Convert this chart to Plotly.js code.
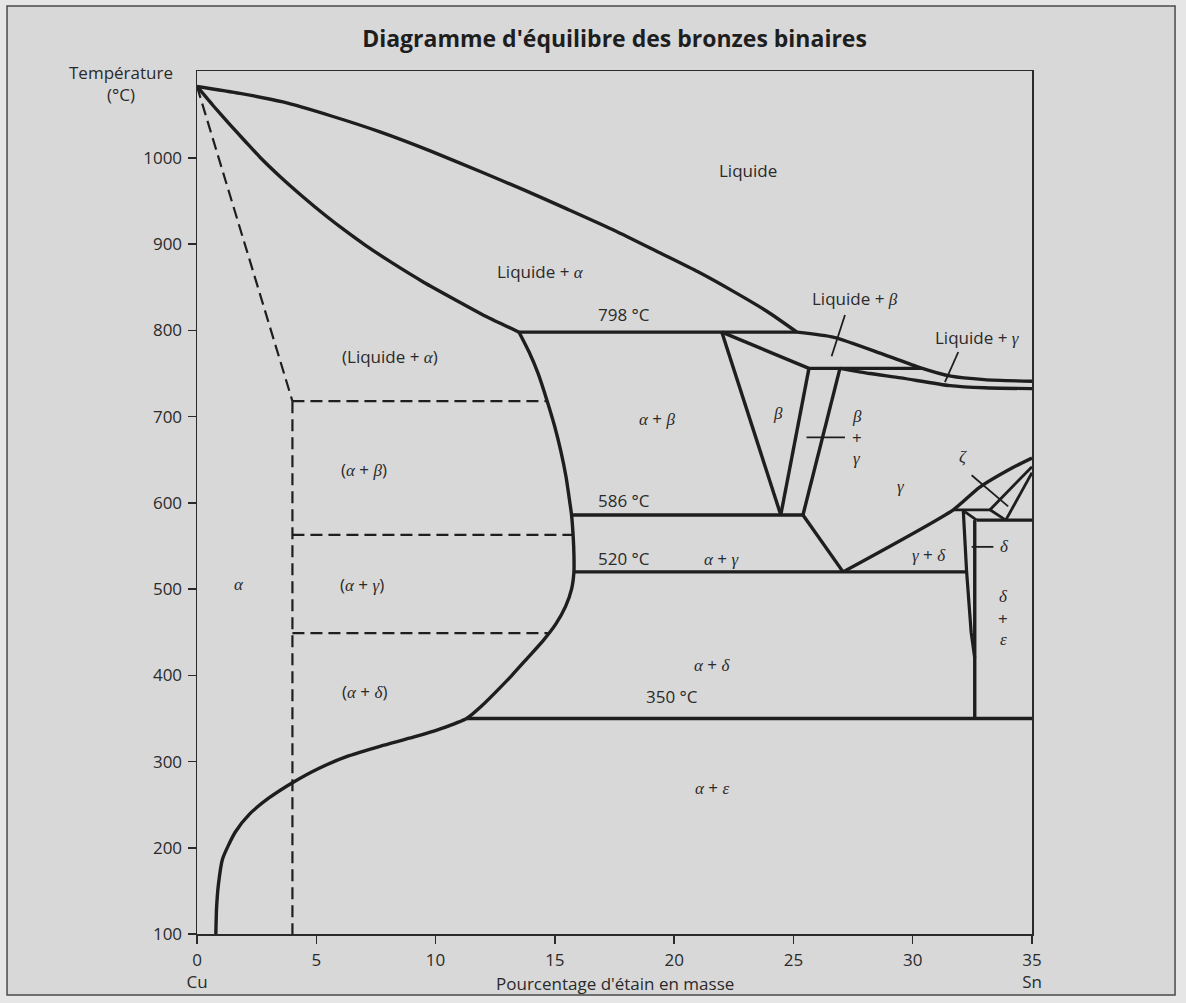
<!DOCTYPE html>
<html>
<head>
<meta charset="utf-8">
<script src="https://cdn.plot.ly/plotly-3.0.1.min.js"></script>
<style>
  html, body { margin: 0; padding: 0; background: #e6e6e6; }
  #chart { width: 1186px; height: 1003px; }
</style>
</head>
<body>
<div id="chart"></div>
<script>
// ---- Axis ticks ----
const xTickVals = [0, 5, 10, 15, 20, 25, 30, 35];
const xTickText = ['0<br>Cu', '5', '10', '15', '20', '25', '30', '35<br>Sn'];
const yTickVals = [100, 200, 300, 400, 500, 600, 700, 800, 900, 1000];

// ---- Phase boundaries (x = % Sn en masse, T = °C) ----
const liquidusUpX = [0, 1.8, 3.6, 5.6, 7.7, 9.8, 11.9, 13.7, 15.5, 17.5, 19.4, 21.0, 22.5, 23.9, 25.15];
const liquidusUpT = [1083, 1075, 1065, 1049, 1030, 1008, 984, 963, 941, 916, 890, 868, 845, 822, 798];
const liquidusLowX = [25.15, 26.7, 28.8, 30.3, 31.6, 33.0, 35];
const liquidusLowT = [798, 792, 772, 757, 747, 743, 741];
const solidusX = [0, 0.7, 1.4, 2.0, 2.67, 3.5, 4.4, 5.4, 6.2, 7.05, 8.2, 9.5, 10.8, 12.1, 13.5];
const solidusT = [1083, 1060, 1038, 1020, 1000, 978, 956, 933, 916, 899, 878, 856, 836, 816.5, 798];
const solvusX = [13.5, 13.92, 14.3, 14.68, 14.98, 15.25, 15.47, 15.63, 15.7, 15.77, 15.8, 15.8,
  15.7, 15.45, 15.05, 14.5, 13.85, 13.2, 12.5, 11.95, 11.3,
  10.2, 9.1, 7.7, 6.35, 5.1, 4.0, 3.0, 2.2, 1.6, 1.07, 0.9, 0.82, 0.79];
const solvusT = [798, 775, 750, 718, 690, 660, 630, 600, 586, 560, 540, 520,
  500, 480, 460, 440, 420, 400, 380, 365, 350,
  338, 328.5, 318, 306.5, 292, 275.5, 257.5, 239, 218, 187, 158, 130, 100];

const iso798X = [13.5, 25.15];  const iso798T = [798, 798];
const iso586X = [15.7, 25.4];   const iso586T = [586, 586];
const iso520X = [15.8, 32.26];  const iso520T = [520, 520];
const iso350X = [11.3, 35];     const iso350T = [350, 350];
const iso756X = [25.65, 30.35]; const iso756T = [756, 756];

const betaTopX = [22.0, 25.65];   const betaTopT = [798, 756];
const betaLeftX = [22.0, 24.47];  const betaLeftT = [798, 586];
const betaRightX = [25.65, 24.47]; const betaRightT = [756, 586];
const betaGamX = [26.95, 25.4];   const betaGamT = [756, 586];
const eutectoidX = [25.4, 27.08]; const eutectoidT = [586, 520];
const gammaLiqX = [26.95, 28.2, 29.5, 31.56, 33.0, 35];
const gammaLiqT = [756, 750, 745, 736, 733.5, 732.5];
const gammaDeltaX = [27.08, 31.7, 32.8, 34.2, 35];
const gammaDeltaT = [520, 592, 618, 641, 652];
const zetaIsoX = [31.7, 33.24];   const zetaIsoT = [592, 592];
const zetaLeftX = [33.24, 35];    const zetaLeftT = [592, 642];
const zetaKinkX = [33.24, 33.9];  const zetaKinkT = [592, 580];
const zetaRightX = [33.9, 35];    const zetaRightT = [580, 635];
const iso580X = [32.68, 35];      const iso580T = [580, 580];
const deltaKinkX = [32.12, 32.68]; const deltaKinkT = [591, 580];
const deltaLeftX = [32.12, 32.26, 32.45, 32.6];
const deltaLeftT = [591, 520, 450, 420];
const deltaRightX = [32.6, 32.6]; const deltaRightT = [580, 350];

// ---- Dashed (4 % Sn alloy, out of equilibrium) ----
const dashDiagX = [0, 4.0];      const dashDiagT = [1083, 718];
const dashVertX = [4.0, 4.0];    const dashVertT = [718, 100];
const dashH1X = [4.0, 14.68];    const dashH1T = [718, 718];
const dashH2X = [4.0, 15.76];    const dashH2T = [563, 563];
const dashH3X = [4.0, 14.75];    const dashH3T = [449, 449];

// ---- Leader lines ----
const ptrLbX = [27.16, 26.6];   const ptrLbT = [818, 770];
const ptrLgX = [31.91, 31.35];  const ptrLgT = [775, 740];
const ptrBgX = [25.55, 27.16];  const ptrBgT = [676, 676];
const ptrDX = [32.47, 33.38];   const ptrDT = [549, 549];
const ptrZX = [32.47, 34.0];    const ptrZT = [632, 596];

// ---- Labels ----
const g = s => "<span style=\"font-family:'Liberation Serif'\"><i>" + s + "</i></span>";
const labelText = ['Liquide', 'Liquide + ' + g('α'), '798 °C', '(Liquide + ' + g('α') + ')',
  g('α') + ' + ' + g('β'), g('β'), '586 °C', '520 °C', g('α') + ' + ' + g('γ'),
  g('γ'), g('ζ'), g('γ') + ' + ' + g('δ'), g('δ'), g('δ'), '+', g('ε'),
  g('α') + ' + ' + g('δ'), '350 °C', g('α') + ' + ' + g('ε'),
  '(' + g('α') + ' + ' + g('β') + ')', g('α'), '(' + g('α') + ' + ' + g('γ') + ')', '(' + g('α') + ' + ' + g('δ') + ')',
  'Liquide + ' + g('β'), 'Liquide + ' + g('γ'), g('β'), '+', g('γ')];
const labelX = [23.1, 14.4, 17.9, 8.1, 19.3, 24.37, 17.9, 17.9, 22.0,
  29.5, 32.1, 30.7, 33.85, 33.8, 33.8, 33.8,
  21.6, 19.9, 21.6,
  7.0, 1.77, 6.9, 7.0,
  27.6, 32.7, 27.65, 27.65, 27.65];
const labelT = [986, 868, 818, 770, 698, 704, 603, 535, 536,
  619, 654, 540, 549, 491, 466, 442,
  412, 376, 270,
  639, 505, 505, 381,
  837, 792, 700, 676, 652];

const INK = '#1e1e1e';
const TXT = '#2a2a2a';
const traces = [];
function addLine(xs, ts, opts) {
  opts = opts || {};
  const ln = {color: INK, width: opts.width || 3.4, dash: opts.dash || 'solid', shape: 'linear'};
  if (opts.spline) { ln.shape = 'spline'; ln.smoothing = 0.6; }
  traces.push({x: xs, y: ts, type: 'scatter', mode: 'lines', hoverinfo: 'skip', showlegend: false, line: ln});
}
addLine(liquidusUpX, liquidusUpT, {spline: true});
addLine(liquidusLowX, liquidusLowT, {spline: true});
addLine(solidusX, solidusT, {spline: true});
addLine(solvusX, solvusT, {spline: true});
addLine(iso798X, iso798T);
addLine(iso586X, iso586T);
addLine(iso520X, iso520T);
addLine(iso350X, iso350T);
addLine(iso756X, iso756T);
addLine(betaTopX, betaTopT);
addLine(betaLeftX, betaLeftT);
addLine(betaRightX, betaRightT);
addLine(betaGamX, betaGamT);
addLine(eutectoidX, eutectoidT);
addLine(gammaLiqX, gammaLiqT, {spline: true});
addLine(gammaDeltaX, gammaDeltaT, {spline: true});
addLine(zetaIsoX, zetaIsoT, {width: 2.8});
addLine(zetaLeftX, zetaLeftT, {width: 2.8});
addLine(zetaKinkX, zetaKinkT, {width: 2.8});
addLine(zetaRightX, zetaRightT, {width: 2.8});
addLine(iso580X, iso580T);
addLine(deltaKinkX, deltaKinkT, {width: 2.8});
addLine(deltaLeftX, deltaLeftT, {width: 3.2});
addLine(deltaRightX, deltaRightT);
[[dashDiagX, dashDiagT], [dashVertX, dashVertT], [dashH1X, dashH1T], [dashH2X, dashH2T], [dashH3X, dashH3T]]
  .forEach(p => addLine(p[0], p[1], {width: 2.2, dash: '12px,6px'}));
[[ptrLbX, ptrLbT], [ptrLgX, ptrLgT], [ptrBgX, ptrBgT], [ptrDX, ptrDT], [ptrZX, ptrZT]]
  .forEach(p => addLine(p[0], p[1], {width: 1.8}));

const FONT = '"Open Sans", Lato, sans-serif';
const annotations = labelText.map((t, i) => ({
  text: t, x: labelX[i], y: labelT[i], xref: 'x', yref: 'y', showarrow: false,
  xanchor: 'center', yanchor: 'middle', font: {family: FONT, size: 17, color: TXT}
}));
annotations.push({
  text: 'Température<br>(°C)', xref: 'paper', yref: 'paper', x: -0.091, y: 0.985,
  xanchor: 'center', yanchor: 'middle', showarrow: false, align: 'center',
  font: {family: FONT, size: 17, color: TXT}
});
annotations.push({
  text: 'Pourcentage d\'étain en masse', xref: 'paper', yref: 'paper', x: 0.5, y: -0.0575,
  xanchor: 'center', yanchor: 'middle', showarrow: false,
  font: {family: FONT, size: 17, color: TXT}
});

const axisCommon = {
  showline: true, linecolor: '#2a2a2a', linewidth: 1.5, mirror: true,
  ticks: 'outside', ticklen: 8, tickwidth: 1.5, tickcolor: '#2a2a2a',
  showgrid: false, zeroline: false, fixedrange: true,
  tickfont: {family: FONT, size: 17, color: TXT}
};

const layout = {
  width: 1186, height: 1003,
  margin: {l: 197, r: 154, t: 71, b: 69},
  paper_bgcolor: '#e6e6e6', plot_bgcolor: 'rgba(0,0,0,0)',
  title: {
    text: 'Diagramme d\'équilibre des bronzes binaires',
    font: {family: FONT, size: 23, color: '#1e1e1e', weight: 'bold'},
    x: 0.5, xref: 'paper', xanchor: 'center', y: 0.961, yref: 'container', yanchor: 'middle'
  },
  xaxis: Object.assign({}, axisCommon, {range: [0, 35], tickvals: xTickVals, ticktext: xTickText, ticklabelstandoff: 2}),
  yaxis: Object.assign({}, axisCommon, {range: [100, 1100.9], tickvals: yTickVals, ticklabelstandoff: 2}),
  annotations: annotations,
  shapes: [{
    type: 'rect', xref: 'paper', yref: 'paper', x0: -0.2275, x1: 1.1713, y0: -0.0707, y1: 1.0753,
    line: {color: '#4a4a4a', width: 1.5}, fillcolor: '#d8d8d8', layer: 'below'
  }],
  showlegend: false
};

Plotly.newPlot('chart', traces, layout, {displayModeBar: false, staticPlot: true});
</script>
</body>
</html>
